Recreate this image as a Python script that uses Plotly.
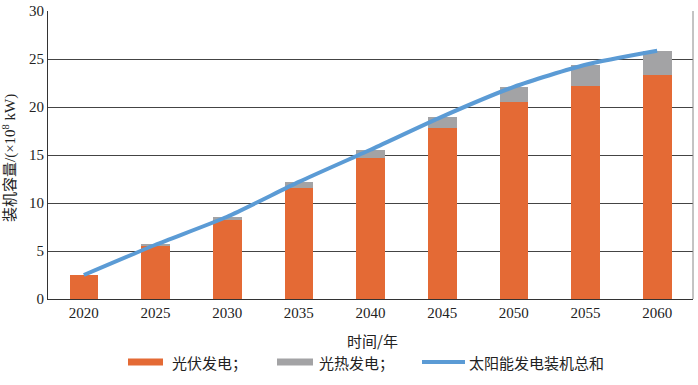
import plotly.graph_objects as go

years = ["2020", "2025", "2030", "2035", "2040", "2045", "2050", "2055", "2060"]
pv = [2.5, 5.6, 8.2, 11.6, 14.7, 17.85, 20.55, 22.2, 23.3]
csp = [0.0, 0.05, 0.37, 0.6, 0.85, 1.15, 1.55, 2.2, 2.55]
total = [2.5, 5.65, 8.57, 12.2, 15.55, 19.0, 22.1, 24.4, 25.85]

SERIF = "Liberation Serif"
CJK = "Noto Sans CJK SC"
ORANGE = "#E46A35"
GRAY = "#A3A3A5"
BLUE = "#5B9BD5"

L, R, T, B = 48, 5, 11, 86
W = 698 - L - R
H = 385 - T - B

fig = go.Figure()
fig.add_trace(go.Bar(x=years, y=pv, name="光伏发电；", marker=dict(color=ORANGE, line=dict(width=0)), width=0.4))
fig.add_trace(go.Bar(x=years, y=csp, name="光热发电；", marker=dict(color=GRAY, line=dict(width=0)), width=0.4))
fig.add_trace(go.Scatter(x=years, y=total, name="太阳能发电装机总和", mode="lines",
                         line=dict(color=BLUE, width=4, shape="spline", smoothing=0.6)))

fig.update_layout(
    width=698, height=385,
    margin=dict(l=L, r=R, t=T, b=B, autoexpand=False),
    barmode="stack",
    plot_bgcolor="white", paper_bgcolor="white",
    showlegend=False,
    font=dict(family=SERIF, size=15, color="#222"),
    xaxis=dict(showgrid=False, showline=True, linecolor="#333", linewidth=1,
               ticks="", tickfont=dict(size=15, family=SERIF, color="#222"), automargin=False),
    yaxis=dict(range=[0, 30], dtick=5, showgrid=True, gridcolor="#444", gridwidth=1,
               showline=True, linecolor="#333", linewidth=1, zeroline=False,
               ticks="", tickfont=dict(size=15, family=SERIF, color="#222"), automargin=False),
)

# right border of plot area
fig.add_shape(type="line", xref="paper", yref="paper", x0=1, x1=1, y0=0, y1=1,
              line=dict(color="#888", width=1))

def px(x):
    return (x - L) / W
def py(y):
    return (385 - B - y) / H

# axis titles
fig.add_annotation(xref="paper", yref="paper", x=px(372), y=py(340), text="时间/年",
                   showarrow=False, xanchor="center", yanchor="middle",
                   font=dict(size=15, family=CJK, color="#222"))
fig.add_annotation(xref="paper", yref="paper", x=px(9), y=py(158),
                   text="装机容量/(×10<sup>8</sup> kW)", textangle=-90,
                   showarrow=False, xanchor="center", yanchor="middle",
                   font=dict(size=15, family=SERIF + ", " + CJK, color="#222"))

# legend
ly = 362
items = [
    ("bar", ORANGE, 128, 163, "光伏发电；", 170),
    ("bar", GRAY, 277, 313, "光热发电；", 317),
    ("line", BLUE, 422, 465, "太阳能发电装机总和", 467),
]
for kind, col, x0, x1, txt, tx in items:
    if kind == "bar":
        fig.add_shape(type="rect", xref="paper", yref="paper",
                      x0=px(x0), x1=px(x1), y0=py(ly + 3.5), y1=py(ly - 3.5),
                      fillcolor=col, line=dict(width=0))
    else:
        fig.add_shape(type="line", xref="paper", yref="paper",
                      x0=px(x0), x1=px(x1), y0=py(ly), y1=py(ly),
                      line=dict(color=col, width=4))
    fig.add_annotation(xref="paper", yref="paper", x=px(tx), y=py(ly), text=txt,
                       showarrow=False, xanchor="left", yanchor="middle",
                       font=dict(size=15, family=CJK, color="#222"))

fig.write_html("out.html", config={"displayModeBar": False},
               post_script="document.body.style.margin='0';")
